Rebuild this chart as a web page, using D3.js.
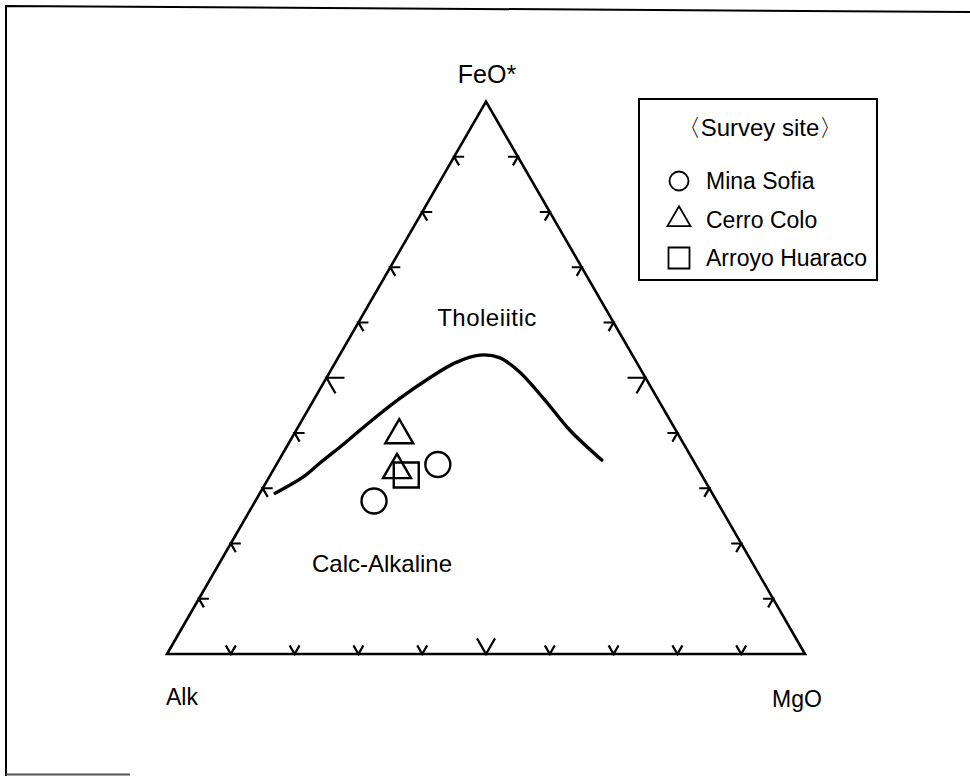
<!DOCTYPE html>
<html>
<head>
<meta charset="utf-8">
<script src="https://cdn.jsdelivr.net/npm/d3@7"></script>
<style>
  body { margin: 0; background: #fff; }
  svg text { font-family: "Liberation Sans", Arial, sans-serif; fill: #000; }
</style>
</head>
<body>
<svg id="chart"></svg>
<script>
// Set up SVG and dimensions
var width = 970, height = 776;

// Apex labels and field names
var apexLabels = ["Alk", "FeO*", "MgO"];
var fieldLabels = ["Tholeiitic", "Calc-Alkaline"];

// Legend entries
var sites = ["Mina Sofia", "Cerro Colo", "Arroyo Huaraco"];
var siteShapes = ["circle", "triangle", "square"];

// Tholeiitic / calc-alkaline boundary (wt% Alk, FeO*, MgO)
var curveAlk = [68.5, 62.7, 58.8, 53.0, 47.2, 40.3, 33.8, 28.5, 23.9, 21.0, 19.2, 17.8, 16.6, 14.3];
var curveFeO = [29.1, 32.0, 34.6, 38.2, 42.0, 46.3, 50.0, 52.7, 54.1, 53.6, 51.0, 46.0, 40.5, 35.1];
var curveMgO = [2.4, 5.3, 6.7, 8.8, 10.8, 13.4, 16.2, 18.8, 22.0, 25.4, 29.8, 36.2, 42.9, 50.6];

// Samples
var sampleSite = [0, 0, 1, 1, 2];
var sampleAlk = [40.4, 53.7, 43.8, 47.3, 46.3];
var sampleFeO = [34.3, 27.7, 39.6, 33.3, 32.4];
var sampleMgO = [25.3, 18.6, 16.6, 19.4, 21.3];

// Tick fractions along each side
var tickFractions = [0.1, 0.2, 0.3, 0.4, 0.5, 0.6, 0.7, 0.8, 0.9];

var svg = d3.select("#chart")
    .attr("width", width)
    .attr("height", height);

svg.append("rect").attr("width", width).attr("height", height).attr("fill", "#fff");

// scanned page frame
svg.append("path")
    .attr("d", "M6,776 L6,6 L970,12")
    .attr("fill", "none").attr("stroke", "#000").attr("stroke-width", 2);
svg.append("path")
    .attr("d", "M6,774.5 L130,774.5")
    .attr("fill", "none").attr("stroke", "#555").attr("stroke-width", 2);

// Ternary scales: unit triangle -> pixels
var r3 = Math.sqrt(3) / 2;
var x = d3.scaleLinear().domain([0, 1]).range([167, 805]);
var y = d3.scaleLinear().domain([0, r3]).range([654, 101.5]);

function proj(a, f, m) {
    var s = a + f + m;
    f = f / s; m = m / s;
    return [x(m + f / 2), y(f * r3)];
}

var A = proj(1, 0, 0), F = proj(0, 1, 0), M = proj(0, 0, 1);

// Triangle outline
svg.append("path")
    .attr("d", "M" + A + "L" + F + "L" + M + "Z")
    .attr("fill", "none")
    .attr("stroke", "#000")
    .attr("stroke-width", 2.6)
    .attr("stroke-linejoin", "miter");

// Tick marks (stubs of the grid lines)
var sides = [
    { at: function(t) { return proj(1 - t, 0, t); }, dirs: [[-0.5, -r3], [0.5, -r3]] },
    { at: function(t) { return proj(1 - t, t, 0); }, dirs: [[1, 0], [0.5, r3]] },
    { at: function(t) { return proj(0, 1 - t, t); }, dirs: [[-1, 0], [-0.5, r3]] }
];
var tickData = [];
sides.forEach(function(s) {
    tickFractions.forEach(function(t) {
        tickData.push({ p: s.at(t), dirs: s.dirs, len: t === 0.5 ? 18 : 10 });
    });
});
svg.append("g").selectAll("path")
    .data(tickData)
    .enter().append("path")
    .attr("d", function(d) {
        var p = d.p;
        return "M" + [p[0] + d.dirs[0][0] * d.len, p[1] + d.dirs[0][1] * d.len] +
               "L" + p + "L" + [p[0] + d.dirs[1][0] * d.len, p[1] + d.dirs[1][1] * d.len];
    })
    .attr("fill", "none")
    .attr("stroke", "#000")
    .attr("stroke-width", 2.2);

// Boundary curve
var curvePts = curveAlk.map(function(a, i) { return proj(a, curveFeO[i], curveMgO[i]); });
svg.append("path")
    .datum(curvePts)
    .attr("d", d3.line().curve(d3.curveCatmullRom.alpha(0.5)))
    .attr("fill", "none")
    .attr("stroke", "#000")
    .attr("stroke-width", 3.4)
    .attr("stroke-linecap", "round");

// Marker shapes
function shapePath(shape, size) {
    if (shape === "circle") {
        var r = size / 2;
        return "M" + (-r) + ",0A" + r + "," + r + " 0 1,0 " + r + ",0A" + r + "," + r + " 0 1,0 " + (-r) + ",0Z";
    }
    if (shape === "triangle") {
        var h = size * r3;
        return "M0," + (-2 * h / 3) + "L" + (size / 2) + "," + (h / 3) + "L" + (-size / 2) + "," + (h / 3) + "Z";
    }
    var s = size / 2;
    return "M" + (-s) + "," + (-s) + "H" + s + "V" + s + "H" + (-s) + "Z";
}
var markerSize = { circle: 25, triangle: 28, square: 25 };

var samples = sampleSite.map(function(s, i) {
    return { shape: siteShapes[s], p: proj(sampleAlk[i], sampleFeO[i], sampleMgO[i]) };
});
svg.append("g").selectAll("path")
    .data(samples)
    .enter().append("path")
    .attr("transform", function(d) { return "translate(" + d.p + ")"; })
    .attr("d", function(d) { return shapePath(d.shape, markerSize[d.shape]); })
    .attr("fill", "none")
    .attr("stroke", "#000")
    .attr("stroke-width", 2.4);

// Apex labels
svg.append("text").attr("x", F[0] + 1).attr("y", 83).attr("text-anchor", "middle")
    .style("font-size", "25px").text(apexLabels[1]);
svg.append("text").attr("x", 182).attr("y", 705).attr("text-anchor", "middle")
    .style("font-size", "23px").text(apexLabels[0]);
svg.append("text").attr("x", 797).attr("y", 707).attr("text-anchor", "middle")
    .style("font-size", "23px").text(apexLabels[2]);

// Field labels
svg.append("text").attr("x", 487).attr("y", 326).attr("text-anchor", "middle")
    .style("font-size", "24px").style("letter-spacing", "0.5px").text(fieldLabels[0]);
svg.append("text").attr("x", 312).attr("y", 572).attr("text-anchor", "start")
    .style("font-size", "24px").text(fieldLabels[1]);

// Legend
var legend = svg.append("g");
legend.append("rect")
    .attr("x", 639).attr("y", 99).attr("width", 238).attr("height", 181)
    .attr("fill", "#fff").attr("stroke", "#000").attr("stroke-width", 2);
legend.append("text").attr("x", 760).attr("y", 136).attr("text-anchor", "middle")
    .style("font-size", "24px").text("\u3008Survey site\u3009");
var rows = legend.selectAll(".row")
    .data(sites)
    .enter().append("g")
    .attr("class", "row")
    .attr("transform", function(d, i) { return "translate(679," + (181 + i * 38.5) + ")"; });
rows.append("path")
    .attr("d", function(d, i) {
        var sh = siteShapes[i];
        return shapePath(sh, sh === "circle" ? 19 : sh === "triangle" ? 23 : 21);
    })
    .attr("fill", "none").attr("stroke", "#000").attr("stroke-width", 1.8);
rows.append("text")
    .attr("x", 27).attr("y", 8)
    .style("font-size", "23px")
    .text(function(d) { return d; });
</script>
</body>
</html>
